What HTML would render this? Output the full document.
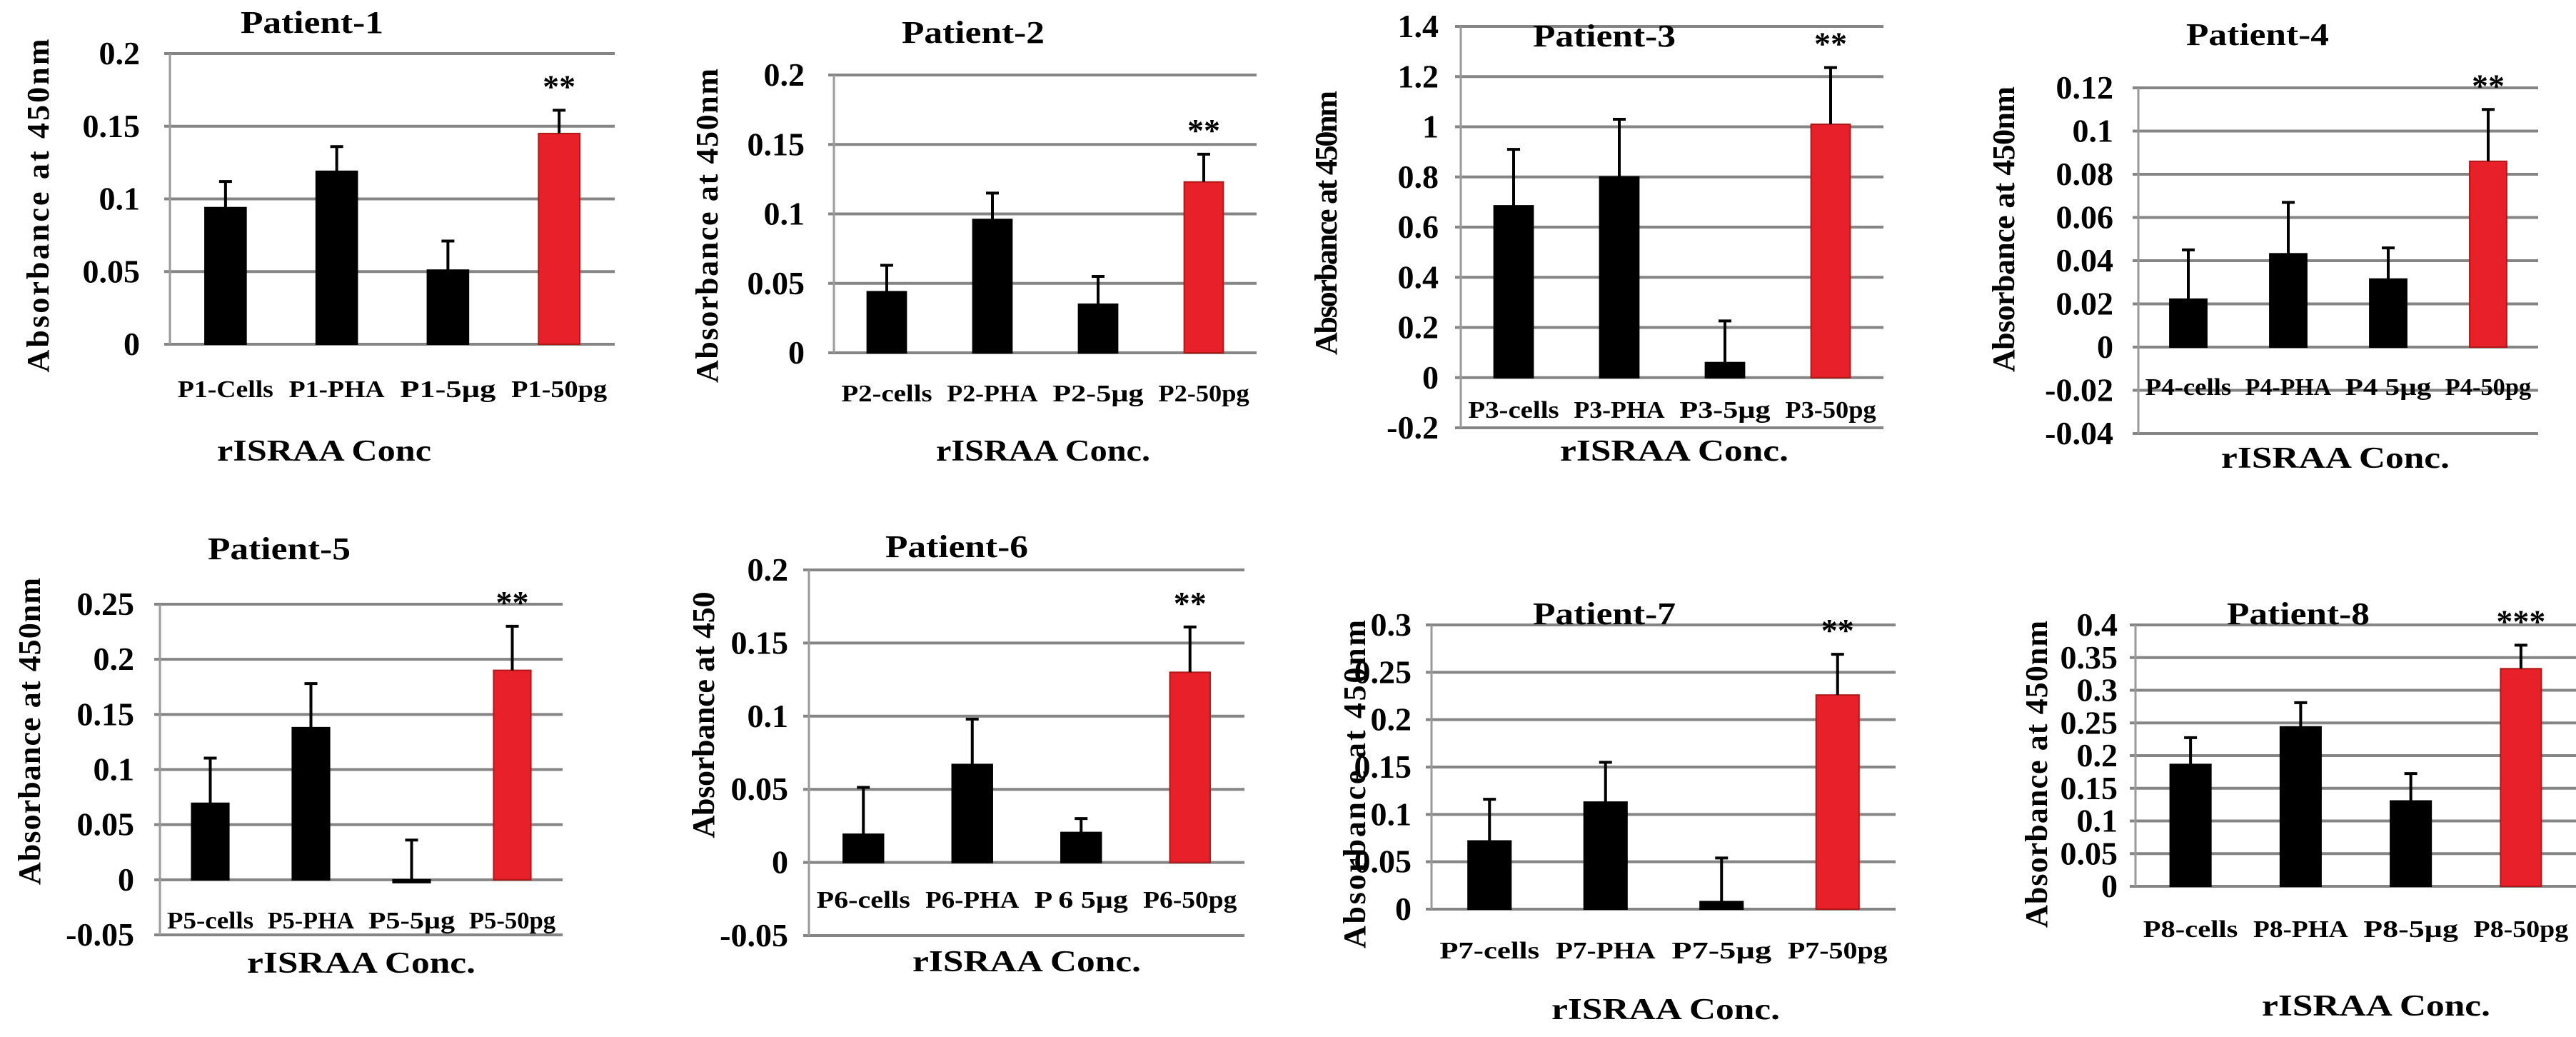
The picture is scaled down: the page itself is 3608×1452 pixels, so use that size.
<!DOCTYPE html>
<html><head><meta charset="utf-8"><style>
html,body{margin:0;padding:0;background:#fff}
svg{display:block}
text{font-family:"Liberation Serif",serif;fill:#000}
</style></head><body>
<svg id="fig" width="3608" height="1452" viewBox="0 0 3608 1452" xmlns="http://www.w3.org/2000/svg"></svg>
<script>
// ---- data ----
const p1Categories = ["P1-Cells","P1-PHA","P1-5\u00b5g","P1-50pg"];
const p1Values = [0.094,0.119,0.051,0.145];
const p1Errors = [0.018,0.017,0.020,0.016];
const p1Ticks = [0,0.05,0.1,0.15,0.2];
const p1TickLabels = ["0","0.05","0.1","0.15","0.2"];

const p2Categories = ["P2-cells","P2-PHA","P2-5\u00b5g","P2-50pg"];
const p2Values = [0.044,0.096,0.035,0.123];
const p2Errors = [0.019,0.019,0.020,0.020];
const p2Ticks = [0,0.05,0.1,0.15,0.2];
const p2TickLabels = ["0","0.05","0.1","0.15","0.2"];

const p3Categories = ["P3-cells","P3-PHA","P3-5\u00b5g","P3-50pg"];
const p3Values = [0.685,0.80,0.06,1.01];
const p3Errors = [0.225,0.23,0.166,0.226];
const p3Ticks = [-0.2,0,0.2,0.4,0.6,0.8,1,1.2,1.4];
const p3TickLabels = ["-0.2","0","0.2","0.4","0.6","0.8","1","1.2","1.4"];

const p4Categories = ["P4-cells","P4-PHA","P4 5\u00b5g","P4-50pg"];
const p4Values = [0.0222,0.0432,0.0315,0.086];
const p4Errors = [0.0228,0.0238,0.0144,0.024];
const p4Ticks = [-0.04,-0.02,0,0.02,0.04,0.06,0.08,0.1,0.12];
const p4TickLabels = ["-0.04","-0.02","0","0.02","0.04","0.06","0.08","0.1","0.12"];

const p5Categories = ["P5-cells","P5-PHA","P5-5\u00b5g","P5-50pg"];
const p5Values = [0.0694,0.138,-0.002,0.190];
const p5Errors = [0.041,0.040,0.038,0.040];
const p5Ticks = [-0.05,0,0.05,0.1,0.15,0.2,0.25];
const p5TickLabels = ["-0.05","0","0.05","0.1","0.15","0.2","0.25"];

const p6Categories = ["P6-cells","P6-PHA","P 6 5\u00b5g","P6-50pg"];
const p6Values = [0.0193,0.067,0.0205,0.130];
const p6Errors = [0.032,0.031,0.0095,0.031];
const p6Ticks = [-0.05,0,0.05,0.1,0.15,0.2];
const p6TickLabels = ["-0.05","0","0.05","0.1","0.15","0.2"];

const p7Categories = ["P7-cells","P7-PHA","P7-5\u00b5g","P7-50pg"];
const p7Values = [0.072,0.113,0.008,0.226];
const p7Errors = [0.044,0.042,0.046,0.043];
const p7Ticks = [0,0.05,0.1,0.15,0.2,0.25,0.3];
const p7TickLabels = ["0","0.05","0.1","0.15","0.2","0.25","0.3"];

const p8Categories = ["P8-cells","P8-PHA","P8-5\u00b5g","P8-50pg"];
const p8Values = [0.1865,0.244,0.1306,0.333];
const p8Errors = [0.041,0.037,0.042,0.036];
const p8Ticks = [0,0.05,0.1,0.15,0.2,0.25,0.3,0.35,0.4];
const p8TickLabels = ["0","0.05","0.1","0.15","0.2","0.25","0.3","0.35","0.4"];

const p1Stars = "**", p2Stars = "**", p3Stars = "**", p4Stars = "**";
const p5Stars = "**", p6Stars = "**", p7Stars = "**", p8Stars = "***";

// ---- layout (geometry only) ----
const layouts = [
 {id:1,cats:p1Categories,vals:p1Values,errs:p1Errors,ticks:p1Ticks,tl:p1TickLabels,stars:p1Stars,
  x0:238,x1:861,yTop:75,yBot:482,title:"Patient-1",tx:437,ty:46,tickR:196,ylx:68,yly:288,ylab:"Absorbance at 450nm",ylen:467,catY:556,axX:454,axY:645,axLabel:"rISRAA Conc",axLen:300},
 {id:2,cats:p2Categories,vals:p2Values,errs:p2Errors,ticks:p2Ticks,tl:p2TickLabels,stars:p2Stars,
  x0:1168,x1:1760,yTop:105,yBot:494,title:"Patient-2",tx:1363,ty:60,tickR:1127,ylx:1005,yly:316,ylab:"Absorbance at 450nm",ylen:440,catY:562,axX:1461,axY:645,axLabel:"rISRAA Conc.",axLen:300},
 {id:3,cats:p3Categories,vals:p3Values,errs:p3Errors,ticks:p3Ticks,tl:p3TickLabels,stars:p3Stars,
  x0:2046,x1:2638,yTop:37,yBot:599,title:"Patient-3",tx:2247,ty:65,tickR:2015,ylx:1872,yly:312,ylab:"Absorbance at 450nm",ylen:370,catY:585,axX:2345,axY:645,axLabel:"rISRAA Conc.",axLen:320},
 {id:4,cats:p4Categories,vals:p4Values,errs:p4Errors,ticks:p4Ticks,tl:p4TickLabels,stars:p4Stars,
  x0:2995,x1:3555,yTop:123,yBot:607,title:"Patient-4",tx:3162,ty:63,tickR:2960,ylx:2821,yly:321,ylab:"Absorbance at 450nm",ylen:400,catY:553,axX:3271,axY:655,axLabel:"rISRAA Conc.",axLen:320},
 {id:5,cats:p5Categories,vals:p5Values,errs:p5Errors,ticks:p5Ticks,tl:p5TickLabels,stars:p5Stars,
  x0:224,x1:788,yTop:846,yBot:1309,title:"Patient-5",tx:391,ty:783,tickR:188,ylx:56,yly:1024,ylab:"Absorbance at 450nm",ylen:430,catY:1300,axX:506,axY:1362,axLabel:"rISRAA Conc.",axLen:320},
 {id:6,cats:p6Categories,vals:p6Values,errs:p6Errors,ticks:p6Ticks,tl:p6TickLabels,stars:p6Stars,
  x0:1133,x1:1743,yTop:798,yBot:1310,title:"Patient-6",tx:1340,ty:780,tickR:1104,ylx:1000,yly:1001,ylab:"Absorbance at 450",ylen:345,catY:1271,axX:1438,axY:1360,axLabel:"rISRAA Conc.",axLen:320},
 {id:7,cats:p7Categories,vals:p7Values,errs:p7Errors,ticks:p7Ticks,tl:p7TickLabels,stars:p7Stars,
  x0:2005,x1:2655,yTop:875,yBot:1273,title:"Patient-7",tx:2247,ty:874,tickR:1977,ylx:1912,yly:1098,ylab:"Absorbance at 450nm",ylen:460,catY:1342,axX:2333,axY:1427,axLabel:"rISRAA Conc.",axLen:320},
 {id:8,cats:p8Categories,vals:p8Values,errs:p8Errors,ticks:p8Ticks,tl:p8TickLabels,stars:p8Stars,
  x0:2991,x1:3608,yTop:875,yBot:1241,title:"Patient-8",tx:3219,ty:874,tickR:2966,ylx:2867,yly:1084,ylab:"Absorbance at 450nm",ylen:430,catY:1312,axX:3328,axY:1422,axLabel:"rISRAA Conc.",axLen:320}
];

const NS = "http://www.w3.org/2000/svg";
const svg = document.getElementById("fig");
function mk(tag, attrs, parent){
  const e = document.createElementNS(NS, tag);
  for (const k in attrs) e.setAttribute(k, attrs[k]);
  parent.appendChild(e);
  return e;
}

layouts.forEach(L => {
  const g = mk("g", {}, svg);
  
  
  const tMin = L.ticks[0], tMax = L.ticks[L.ticks.length-1];
  const yScale = v => L.yBot - (v - tMin) / (tMax - tMin) * (L.yBot - L.yTop);
  const slot = (L.x1 - L.x0) / L.cats.length;
  const xCenter = i => L.x0 + slot * (i + 0.5);
  const bw = slot * 0.37;

  L.ticks.forEach((t, i) => {
    const y = yScale(t);
    const gl = mk("line", {x1:L.x0-8, x2:L.x1, y1:y, y2:y, stroke:"#858585", "stroke-width":4}, g);
    
    
    const tx = mk("text", {x:L.tickR, y:y+15, "text-anchor":"end", "font-size":46, "font-weight":"bold"}, g);
    tx.textContent = L.tl[i];
    
    
  });
  const ax = mk("line", {x1:L.x0, x2:L.x0, y1:L.yTop, y2:L.yBot, stroke:"#9a9a9a", "stroke-width":3}, g);
  
  

  L.vals.forEach((v, i) => {
    const cx = xCenter(i);
    const y0 = yScale(0), yv = yScale(v);
    const red = i === 3;
    const bar = mk("rect", {x:cx-bw/2, y:Math.min(y0,yv), width:bw, height:Math.max(Math.abs(y0-yv),4),
      fill: red ? "#e8202a" : "#000", stroke: red ? "#b01818" : "#000", "stroke-width":2}, g);
    
    
    const ye = yScale(v + L.errs[i]);
    const el = mk("path", {d:`M${cx} ${yv} V${ye} M${cx-9} ${ye} H${cx+9}`, stroke:"#000", "stroke-width":4, fill:"none"}, g);
    
    
    const ct = mk("text", {x:cx, y:L.catY, "text-anchor":"middle", "font-size":34, "font-weight":"bold", textLength:slot*0.86, lengthAdjust:"spacingAndGlyphs"}, g);
    ct.textContent = L.cats[i];
    
    
    if (red) {
      const st = mk("text", {x:cx, y:ye-18, "text-anchor":"middle", "font-size":46, "font-weight":"bold", "font-family":"Liberation Sans, sans-serif"}, g);
      st.textContent = L.stars;
      
      
    }
  });

  const ti = mk("text", {x:L.tx, y:L.ty, "text-anchor":"middle", "font-size":44, "font-weight":"bold", textLength:200, lengthAdjust:"spacingAndGlyphs"}, g);
  ti.textContent = L.title;
  
  

  const yl = mk("text", {x:0, y:0, "text-anchor":"middle", "font-size":44, "font-weight":"bold", textLength:L.ylen, lengthAdjust:"spacing",
    transform:`translate(${L.ylx},${L.yly}) rotate(-90)`}, g);
  yl.textContent = L.ylab;
  
  

  const xl = mk("text", {x:L.axX, y:L.axY, "text-anchor":"middle", "font-size":42, "font-weight":"bold", textLength:L.axLen, lengthAdjust:"spacingAndGlyphs"}, g);
  xl.textContent = L.axLabel;
  
  
});
</script>
</body></html>
